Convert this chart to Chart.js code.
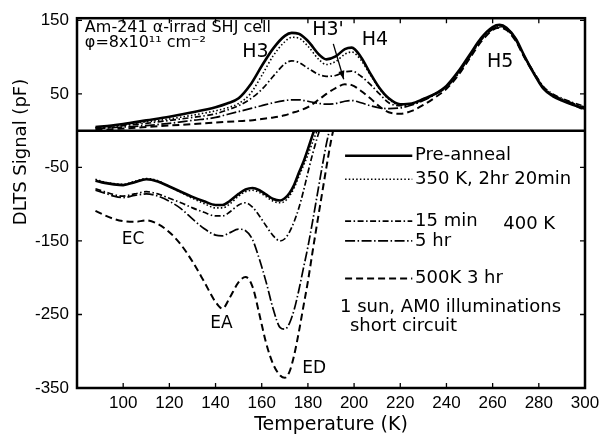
<!DOCTYPE html>
<html>
<head>
<meta charset="utf-8">
<script src="https://cdn.jsdelivr.net/npm/chart.js@4.4.1/dist/chart.umd.min.js"></script>
<style>
  body { margin: 0; background: #fff; }
  #wrap { width: 613px; height: 445px; }
</style>
</head>
<body>
<div id="wrap"><canvas id="dlts" width="613" height="445"></canvas></div>
<script>
// temperature grids (K)
const tempTop = [88, 95, 100, 110, 120, 130, 140, 145, 150, 155, 160, 165, 170, 173, 176, 180, 185, 188, 192, 196, 199, 203, 207, 211, 215, 220, 225, 230, 235, 240, 245, 250, 255, 260, 263, 266, 270, 274, 278, 282, 286, 290, 295, 300];
const tempBot = [88, 92, 96, 100, 105, 110, 115, 120, 125, 130, 135, 140, 143, 146, 150, 153, 156, 159, 162, 165, 168, 170, 172, 174, 176, 178, 180, 182, 184, 186, 188, 190, 192];

// upper panel (majority traps, pF)
const preTop  = [5, 7, 9, 14, 19, 25, 32, 37, 44, 62, 88, 112, 129, 133, 132, 122, 103, 97, 101, 111, 113, 100, 78, 58, 44, 36, 37, 43, 50, 61, 80, 103, 126, 141, 144, 140, 125, 100, 77, 57, 47, 41, 35, 30];
const k350Top = [4, 6, 8, 12, 16, 21, 27, 31, 37, 50, 75, 102, 121, 127, 126, 115, 96, 90, 94, 104, 107, 96, 76, 57, 43, 35, 36, 42, 50, 60, 79, 102, 125, 140, 143, 140, 125, 100, 78, 58, 48, 42, 36, 31];
const m15Top  = [4, 5, 7, 10, 14, 18, 23, 28, 34, 43, 56, 74, 91, 95, 93, 85, 76, 74, 75, 80, 81, 74, 63, 50, 38, 34, 36, 42, 50, 60, 78, 101, 124, 139, 142, 139, 124, 100, 79, 60, 50, 44, 38, 33];
const h5Top   = [3, 4, 5, 7, 10, 14, 18, 22, 26, 30, 34, 38, 41, 42, 42, 40, 37, 36, 37, 40, 41, 38, 34, 31, 30, 31, 35, 41, 49, 59, 77, 100, 123, 138, 141, 138, 123, 99, 78, 59, 49, 43, 37, 32];
const k500Top = [1, 2, 3, 5, 7, 9, 11, 12, 13, 14, 16, 18, 21, 24, 27, 32, 43, 50, 58, 63, 62, 54, 44, 33, 25, 23, 27, 35, 45, 57, 75, 98, 121, 137, 140, 137, 122, 98, 77, 58, 48, 42, 35, 28];

// lower panel (minority traps under illumination, pF)
const preBot  = [-68, -71, -73, -74, -70, -66, -69, -76, -83, -90, -96, -101, -101, -96, -86, -80, -78, -81, -87, -93, -95, -92, -85, -74, -58, -43, -25, -6, 12, null, null, null, null];
const k350Bot = [-66, -70, -72, -73, -69, -65, -68, -76, -84, -92, -99, -105, -105, -100, -89, -83, -81, -84, -90, -96, -98, -96, -89, -78, -63, -48, -33, -16, 0, 15, null, null, null];
const m15Bot  = [-79, -83, -87, -89, -86, -83, -86, -92, -98, -105, -111, -116, -116, -111, -101, -98, -104, -116, -130, -143, -150, -147, -138, -124, -106, -83, -57, -32, -10, 10, null, null, null];
const h5Bot   = [-81, -85, -89, -91, -88, -86, -89, -96, -106, -120, -133, -142, -143, -139, -134, -136, -148, -175, -207, -243, -268, -270, -262, -244, -218, -188, -158, -124, -88, -52, -18, 10, null];
const k500Bot = [-109, -115, -120, -123, -124, -122, -127, -138, -155, -178, -205, -233, -242, -228, -206, -199, -212, -250, -290, -318, -333, -336, -328, -306, -275, -240, -205, -165, -126, -88, -50, -14, 15];

const seriesNames = ['Pre-anneal', '350 K, 2hr 20min', '15 min', '5 hr', '500K 3 hr'];
const xTicks = [100, 120, 140, 160, 180, 200, 220, 240, 260, 280, 300];
const yTicks = [-350, -250, -150, -50, 50, 150];

const topSeries = [preTop, k350Top, m15Top, h5Top, k500Top];
const botSeries = [preBot, k350Bot, m15Bot, h5Bot, k500Bot];

// line styles per series
const styles = [
    { borderDash: [], borderWidth: 2.6 },
    { borderDash: [1.5, 2.2], borderWidth: 1.6 },
    { borderDash: [6, 2.5, 1.5, 2.5], borderWidth: 1.7 },
    { borderDash: [10, 2.5, 1.5, 2.5], borderWidth: 1.7 },
    { borderDash: [7, 4], borderWidth: 2 }
];

function toPoints(temps, vals) {
    return temps.map((t, i) => ({ x: t, y: vals[i] }));
}

const datasets = [];
seriesNames.forEach((name, i) => {
    const base = {
        label: name,
        borderColor: '#000',
        backgroundColor: '#000',
        borderDash: styles[i].borderDash,
        borderWidth: styles[i].borderWidth,
        pointRadius: 0,
        cubicInterpolationMode: 'monotone',
        spanGaps: false
    };
    datasets.push(Object.assign({}, base, { panel: 'top', data: toPoints(tempTop, topSeries[i]) }));
    datasets.push(Object.assign({}, base, { panel: 'bottom', data: toPoints(tempBot, botSeries[i]) }));
});

const textFont = 'DejaVu Sans';

// frame, inner ticks, divider, labels and legend
const decor = {
    id: 'decor',
    beforeDatasetDraw(chart, args) {
        if (chart.data.datasets[args.index].panel !== 'bottom') return;
        const { ctx, chartArea: a } = chart;
        const y0 = chart.scales.y.getPixelForValue(0);
        ctx.save();
        ctx.beginPath();
        ctx.rect(a.left, y0, a.right - a.left, a.bottom - y0);
        ctx.clip();
    },
    afterDatasetDraw(chart, args) {
        if (chart.data.datasets[args.index].panel === 'bottom') chart.ctx.restore();
    },
    afterDatasetsDraw(chart) {
        const { ctx, chartArea: a } = chart;
        const xs = chart.scales.x, ys = chart.scales.y;
        const px = t => xs.getPixelForValue(t);
        const py = v => ys.getPixelForValue(v);
        ctx.save();
        ctx.strokeStyle = '#000';
        ctx.fillStyle = '#000';

        // frame and zero divider
        ctx.lineWidth = 2.5;
        ctx.setLineDash([]);
        ctx.strokeRect(a.left, a.top, a.right - a.left, a.bottom - a.top);
        ctx.beginPath();
        ctx.moveTo(a.left, py(0));
        ctx.lineTo(a.right, py(0));
        ctx.stroke();

        // inward ticks
        ctx.lineWidth = 1.3;
        ctx.beginPath();
        xTicks.forEach(t => {
            ctx.moveTo(px(t), a.bottom); ctx.lineTo(px(t), a.bottom - 5);
            ctx.moveTo(px(t), a.top); ctx.lineTo(px(t), a.top + 5);
        });
        yTicks.forEach(v => {
            ctx.moveTo(a.left, py(v)); ctx.lineTo(a.left + 5, py(v));
            ctx.moveTo(a.right, py(v)); ctx.lineTo(a.right - 5, py(v));
        });
        ctx.stroke();

        function label(str, t, v, size, align) {
            ctx.font = size + 'px "' + textFont + '"';
            ctx.textAlign = align || 'center';
            ctx.textBaseline = 'middle';
            ctx.fillText(str, px(t), py(v));
        }

        label('Am-241 \u03b1-irrad SHJ cell', 83.4, 140, 16, 'left');
        label('\u03c6=8x10\u00b9\u00b9 cm\u207b\u00b2', 83.4, 119, 16, 'left');
        label('H3', 157.3, 107, 19);
        label("H3'", 188.7, 137, 19);
        label('H4', 209, 123, 19);
        label('H5', 263.3, 93.6, 19);
        label('EC', 104.3, -148, 17);
        label('EA', 142.6, -263, 17);
        label('ED', 182.7, -324, 17);

        // arrow H3' -> 500K peak
        const ax0 = px(191), ay0 = py(118), ax1 = px(195.5), ay1 = py(70);
        ctx.lineWidth = 1.3;
        ctx.beginPath();
        ctx.moveTo(ax0, ay0);
        ctx.lineTo(ax1, ay1);
        ctx.stroke();
        const ang = Math.atan2(ay1 - ay0, ax1 - ax0);
        ctx.beginPath();
        ctx.moveTo(ax1, ay1);
        ctx.lineTo(ax1 - 9 * Math.cos(ang - 0.35), ay1 - 9 * Math.sin(ang - 0.35));
        ctx.lineTo(ax1 - 9 * Math.cos(ang + 0.35), ay1 - 9 * Math.sin(ang + 0.35));
        ctx.closePath();
        ctx.fill();

        // legend inside the lower panel
        const rowV = [-34, -66, -123, -150, -201];
        seriesNames.forEach((name, i) => {
            ctx.lineWidth = styles[i].borderWidth;
            ctx.setLineDash(styles[i].borderDash);
            ctx.beginPath();
            ctx.moveTo(px(196.1), py(rowV[i]));
            ctx.lineTo(px(225.2), py(rowV[i]));
            ctx.stroke();
            ctx.setLineDash([]);
            label(name, 226.4, rowV[i], 18, 'left');
        });
        label('400 K', 264.6, -127, 18, 'left');
        label('1 sun, AM0 illuminations', 193.9, -240.5, 18, 'left');
        label('short circuit', 198.2, -266, 18, 'left');

        // y axis title
        ctx.translate(21, 152);
        ctx.rotate(-Math.PI / 2);
        ctx.font = '18px "' + textFont + '"';
        ctx.textAlign = 'center';
        ctx.textBaseline = 'middle';
        ctx.fillText('DLTS Signal (pF)', 0, 0);
        ctx.restore();
    }
};

new Chart(document.getElementById('dlts'), {
    type: 'line',
    data: { datasets: datasets },
    options: {
        responsive: false,
        animation: false,
        devicePixelRatio: 1,
        layout: { padding: { top: 13, right: 28, left: 0, bottom: 0 } },
        plugins: {
            legend: { display: false },
            tooltip: { enabled: false }
        },
        scales: {
            x: {
                type: 'linear',
                min: 80,
                max: 300,
                grid: { display: false, drawTicks: false },
                border: { display: false },
                afterBuildTicks: scale => { scale.ticks = xTicks.map(v => ({ value: v })); },
                afterFit: scale => { scale.height = 57; },
                ticks: {
                    color: '#000',
                    padding: 5,
                    maxRotation: 0,
                    autoSkip: false,
                    font: { family: 'Liberation Sans', size: 17 }
                },
                title: {
                    display: true,
                    text: 'Temperature (K)',
                    color: '#000',
                    padding: { top: 0, bottom: 9 },
                    font: { family: textFont, size: 19 }
                }
            },
            y: {
                type: 'linear',
                min: -350,
                max: 153,
                grid: { display: false, drawTicks: false },
                border: { display: false },
                afterBuildTicks: scale => { scale.ticks = yTicks.map(v => ({ value: v })); },
                afterFit: scale => { scale.width = 77; },
                ticks: {
                    color: '#000',
                    padding: 8,
                    autoSkip: false,
                    font: { family: 'Liberation Sans', size: 17 }
                }
            }
        }
    },
    plugins: [decor]
});
</script>
</body>
</html>
